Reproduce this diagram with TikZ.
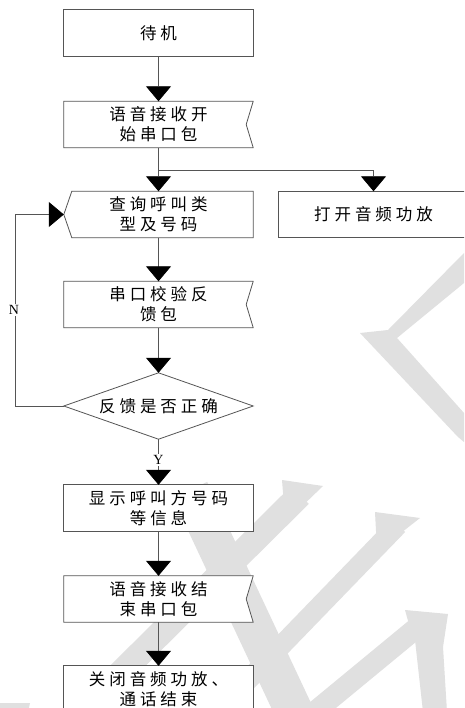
\documentclass[tikz,border=0pt]{standalone}
\usepackage{fontspec}
\usetikzlibrary{arrows.meta}
\setmainfont{Liberation Serif}
\newfontfamily\cjk{Noto Sans CJK SC}[LetterSpace=24]
\definecolor{wm}{RGB}{224,224,224}
\definecolor{ln}{RGB}{85,85,85}
\begin{document}
\begin{tikzpicture}[x=1pt,y=-1pt,
  box/.style={draw=none, minimum width=189pt, minimum height=46pt, inner sep=0pt,
    align=center, font=\cjk\fontsize{16.5}{20}\selectfont},
  outline/.style={draw=ln, line width=0.8pt, fill=white},
  flow/.style={draw=ln, line width=0.8pt,
    -{Triangle[width=25pt,length=15pt,color=black,fill=black]}},
  plain/.style={draw=ln, line width=0.8pt},
  lab/.style={fill=white, inner sep=1.5pt, font=\fontsize{14}{14}\selectfont},
  wmline/.style={draw=wm, line width=#1}]
\useasboundingbox (0,0) rectangle (464,708);
\clip (0,0) rectangle (464,708);
\fill[white] (0,0) rectangle (464,708);

% watermark
\fill[wm] (464,253) -- (388,330) -- (360,333) -- (458,437) -- (464,442)
  -- (464,413) -- (397,338) -- (464,283) -- cycle;
\draw[wmline=25pt] (300,495) -- (60,733);
\fill[wm] (282,480) -- (323,486) -- (296,512) -- (284,505) -- cycle;
\draw[wmline=38pt] (190,490) -- (305,735);
\draw[wmline=20pt] (398,525) -- (190,740);
\fill[wm] (375,512) -- (420,518) -- (392,540) -- (377,550) -- cycle;
\draw[wmline=21pt] (420,625) -- (300,724);
\fill[wm] (405,610) -- (448,614) -- (443,647) -- (447,712) -- (423,712)
  -- (415,640) -- (410,628) -- cycle;
\fill[wm] (0,703) -- (30,703) -- (28,712) -- (0,712) -- cycle;

% nodes
\node[box] (b1) at (158.5,33) {待机};
\node[box] (b2) at (158.5,124.5) {语音接收开\\始串口包};
\node[box] (b3) at (158.5,214.5) {查询呼叫类\\型及号码};
\node[box, minimum width=189pt] (b4) at (373.5,214.5) {打开音频功放};
\node[box, minimum height=66pt] (d) at (158.5,406) {反馈是否正确};
\node[box] (b5) at (158.5,304.5) {串口校验反\\馈包};
\node[box] (b6) at (158.5,508) {显示呼叫方号码\\等信息};
\node[box] (b7) at (158.5,599) {语音接收结\\束串口包};
\node[box] (b8) at (158.5,689) {关闭音频功放、\\通话结束};

% outlines
\begin{scope}[on background layer/.style={}]
\end{scope}
\draw[outline] (b1.north west) rectangle (b1.south east);
\draw[outline] (b2.north west) -- (b2.north east) -- ([xshift=-7pt]b2.east)
  -- (b2.south east) -- (b2.south west) -- cycle;
\draw[outline] ([xshift=8pt]b3.north west) -- (b3.north east) -- (b3.south east)
  -- ([xshift=8pt]b3.south west) -- (b3.west) -- cycle;
\draw[outline] (b4.north west) rectangle (b4.south east);
\draw[outline] (b5.north west) -- (b5.north east) -- ([xshift=-7pt]b5.east)
  -- (b5.south east) -- (b5.south west) -- cycle;
\draw[outline] (d.north) -- (d.east) -- (d.south) -- (d.west) -- cycle;
\draw[outline] (b6.north west) rectangle (b6.south east);
\draw[outline] (b7.north west) -- (b7.north east) -- ([xshift=-7pt]b7.east)
  -- (b7.south east) -- (b7.south west) -- cycle;
\draw[outline] (b8.north west) rectangle (b8.south east);

% redraw texts above fills
\node[box] at (b1) {待机};
\node[box] at (b2) {语音接收开\\始串口包};
\node[box] at (b3) {查询呼叫类\\型及号码};
\node[box] at (b4) {打开音频功放};
\node[box, minimum height=66pt] at (d) {反馈是否正确};
\node[box] at (b5) {串口校验反\\馈包};
\node[box] at (b6) {显示呼叫方号码\\等信息};
\node[box] at (b7) {语音接收结\\束串口包};
\node[box] at (b8) {关闭音频功放、\\通话结束};

% connectors
\coordinate (j) at (158.5,170);
\coordinate (lc) at (15,406);
\draw[flow] (b1) -- (b1.south) -- (b2.north);
\draw[flow] (b2.south) -- (b3.north);
\draw[flow] (j) -| (b4.north);
\draw[flow] (b3.south) -- (b5.north);
\draw[flow] (b5.south) -- (d.north);
\draw[flow] (d.west) -- (lc) |- (b3.west);
\draw[flow] (d.south) -- (b6.north);
\draw[flow] (b6.south) -- (b7.north);
\draw[flow] (b7.south) -- (b8.north);
\node[lab] (n) at (14,310) {N};
\node[lab] (y) at (158.5,460) {Y};
\end{tikzpicture}
\end{document}
